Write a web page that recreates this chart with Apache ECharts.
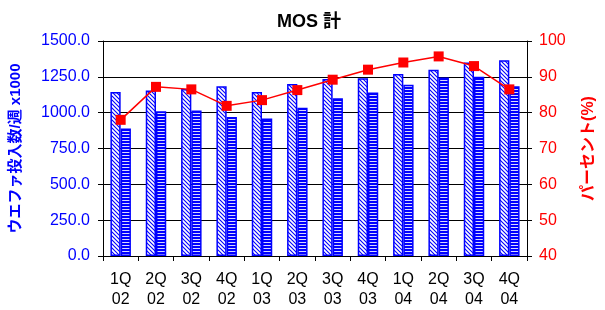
<!DOCTYPE html>
<html>
<head>
<meta charset="utf-8">
<script src="https://cdn.jsdelivr.net/npm/echarts@6/dist/echarts.min.js"></script>
<style>
  html, body { margin: 0; padding: 0; background: #fff; }
  #main { width: 605px; height: 310px; }
</style>
</head>
<body>
<div id="main"></div>
<script>
// quarters
var categories = ['1Q\n02', '2Q\n02', '3Q\n02', '4Q\n02', '1Q\n03', '2Q\n03', '3Q\n03', '4Q\n03', '1Q\n04', '2Q\n04', '3Q\n04', '4Q\n04'];
// wafer starts / week x1000
var startsA = [1145, 1155, 1165, 1185, 1145, 1200, 1235, 1240, 1270, 1300, 1350, 1365];
var startsB = [890, 1010, 1015, 970, 960, 1035, 1100, 1140, 1195, 1245, 1250, 1185];
// percent
var percent = [78, 87.2, 86.5, 81.9, 83.5, 86.3, 89.2, 92.0, 94.0, 95.7, 93.0, 86.5];

var leftTicks = { min: 0, max: 1500, step: 250 };
var rightTicks = { min: 40, max: 100, step: 10 };

var FONT = "Arial, 'Liberation Sans', 'Noto Sans CJK JP', sans-serif";
var BLUE = '#0000ff';
var RED = '#ff0000';

function makeDiag() {
    var c = document.createElement('canvas');
    c.width = 4; c.height = 4;
    var ctx = c.getContext('2d');
    ctx.fillStyle = '#fff';
    ctx.fillRect(0, 0, 4, 4);
    ctx.strokeStyle = BLUE;
    ctx.lineWidth = 1.1;
    ctx.beginPath();
    ctx.moveTo(-1, -1); ctx.lineTo(5, 5);
    ctx.moveTo(-1, 3); ctx.lineTo(1, 5);
    ctx.moveTo(3, -1); ctx.lineTo(5, 1);
    ctx.stroke();
    return c;
}
function makeHoriz() {
    var c = document.createElement('canvas');
    c.width = 3; c.height = 3;
    var ctx = c.getContext('2d');
    ctx.fillStyle = BLUE;
    ctx.fillRect(0, 0, 3, 3);
    ctx.fillStyle = '#d8d8ff';
    ctx.fillRect(0, 2, 3, 1);
    return c;
}

var myChart = echarts.init(document.getElementById('main'));
var option = {
    backgroundColor: '#fff',
    animation: false,
    textStyle: { fontFamily: FONT },
    title: {
        text: 'MOS 計',
        left: 272,
        top: 8,
        textStyle: { fontSize: 18, fontWeight: 'bold', color: '#000', fontFamily: FONT }
    },
    grid: { left: 103, right: 69, top: 41, bottom: 54 },
    xAxis: {
        type: 'category',
        data: categories,
        axisLine: { lineStyle: { color: '#000', width: 1 } },
        axisTick: { show: true, length: 5, lineStyle: { color: '#000' } },
        axisLabel: { color: '#000', fontSize: 16, lineHeight: 20, margin: 14, interval: 0, fontFamily: FONT }
    },
    yAxis: [
        {
            type: 'value',
            min: leftTicks.min, max: leftTicks.max, interval: leftTicks.step,
            name: 'ウエファ投入数/週 x1000',
            nameLocation: 'middle',
            nameRotate: 90,
            nameGap: 80,
            nameTextStyle: { color: BLUE, fontSize: 15, fontWeight: 'bold', fontFamily: FONT },
            axisLine: { show: true, lineStyle: { color: '#000', width: 1 } },
            axisTick: { show: true, length: 5, lineStyle: { color: '#000' } },
            axisLabel: {
                color: BLUE, fontSize: 16, margin: 13, fontFamily: FONT,
                formatter: function (v) { return v.toFixed(1); }
            },
            splitLine: { show: true, lineStyle: { color: '#000', width: 1 } }
        },
        {
            type: 'value',
            min: rightTicks.min, max: rightTicks.max, interval: rightTicks.step,
            name: 'パーセント(%)',
            nameLocation: 'middle',
            nameRotate: 90,
            nameGap: 54,
            nameTextStyle: { color: RED, fontSize: 16, fontWeight: 'bold', fontFamily: FONT },
            axisLine: { show: true, lineStyle: { color: '#000', width: 1 } },
            axisTick: { show: true, length: 5, lineStyle: { color: '#000' } },
            axisLabel: { color: RED, fontSize: 16, margin: 12, fontFamily: FONT },
            splitLine: { show: false }
        }
    ],
    series: [
        {
            type: 'bar',
            data: startsA,
            barGap: '0%',
            barCategoryGap: '42%',
            itemStyle: {
                color: { image: makeDiag(), repeat: 'repeat' },
                borderColor: BLUE,
                borderWidth: 1.5
            }
        },
        {
            type: 'bar',
            data: startsB,
            itemStyle: {
                color: { image: makeHoriz(), repeat: 'repeat' },
                borderColor: BLUE,
                borderWidth: 1.5
            }
        },
        {
            type: 'line',
            yAxisIndex: 1,
            data: percent,
            symbol: 'rect',
            symbolSize: 10,
            lineStyle: { color: RED, width: 1.5 },
            itemStyle: { color: RED },
            z: 5
        }
    ]
};
myChart.setOption(option);
</script>
</body>
</html>
